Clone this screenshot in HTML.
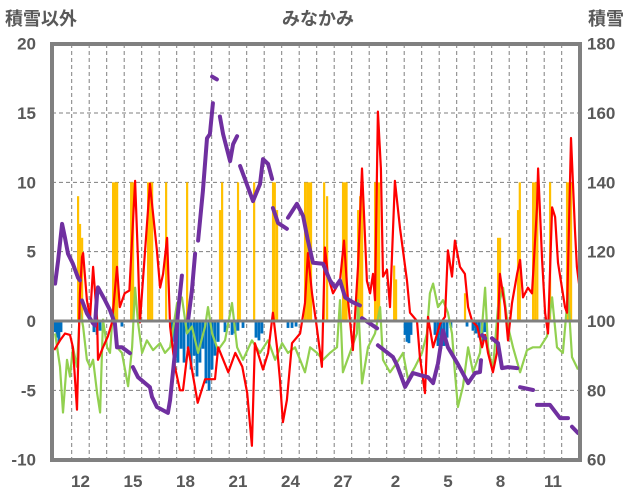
<!DOCTYPE html>
<html><head><meta charset="utf-8">
<style>
html,body{margin:0;padding:0;background:#fff;}
svg{display:block;}
text{font-family:"Liberation Sans","Noto Sans CJK JP",sans-serif;fill:#595959;font-weight:bold;}
</style></head>
<body>
<svg id="chart" width="636" height="501" viewBox="0 0 636 501" xmlns="http://www.w3.org/2000/svg">
  <text x="318" y="25" font-size="18" text-anchor="middle">みなかみ</text>
  <text x="5" y="25" font-size="18">積雪以外</text>
  <text x="588" y="25" font-size="18">積雪</text>
  <g id="grid"></g>
  <g id="bars"></g>
  <g id="lines"></g>
  <g id="axes"></g>
</svg>
<script>
// ---- data ----
const leftTicks = [20, 15, 10, 5, 0, -5, -10];
const rightTicks = [180, 160, 140, 120, 100, 80, 60];
const xLabelDays = [1, 4, 7, 10, 13, 16, 19, 22, 25, 28];
const xLabels = ["12", "15", "18", "21", "24", "27", "2", "5", "8", "11"];

const orangeT = [1.36,1.47,1.59,3.36,3.47,3.59,4.39,4.5,5.36,5.47,5.59,6.39,7.59,9.47,9.59,10.5,10.6,11.42,12.5,12.6,12.73,14.33,14.45,14.56,14.67,15.42,15.59,16.5,16.6,16.7,17.36,17.48,17.59,18.33,18.45,18.56,19.42,19.53,23.47,25.36,25.47,26.5,26.6,27.36,27.48,27.6,28.33,29.3,29.4,29.53];
const orangeV = [9,7,6,10,10,10,10,10,10,10,10,10,10,8,10,10,8,10,10,10,8,10,10,10,10,10,9,10,10,10,8,9,10,10,10,10,4,3,2,6,6,8,10,10,10,10,10,10,10,10];

const blueT = [0.05,0.16,0.27,0.39,2.27,2.45,2.62,3.87,6.73,6.9,7.07,7.25,7.42,7.65,7.82,8.0,8.16,8.33,8.5,8.67,8.85,9.02,9.19,9.37,9.76,10.16,10.33,10.5,10.79,11.53,11.7,11.87,13.36,13.59,13.82,20.05,20.16,20.27,20.39,21.76,21.93,22.1,22.27,22.45,22.67,23.59,23.93,24.1,24.27,24.45,24.62];
const blueV = [-0.8,-1.2,-1.5,-0.8,-0.8,-1,-0.7,-0.4,-1.5,-2.5,-3,-2,-3,-2,-3.5,-2.5,-4,-3,-2,-4.5,-5,-3.5,-2.5,-1.5,-0.8,-1,-0.9,-0.7,-0.5,-1.2,-1.4,-0.9,-0.5,-0.5,-0.4,-1,-1.5,-1.6,-1,-1,-1.8,-2,-1.8,-1.2,-0.5,-0.4,-0.7,-0.9,-1.2,-1.5,-0.8];

const redT = [0,0.33,0.62,0.9,1.07,1.3,1.47,1.59,1.65,1.87,2.05,2.22,2.45,2.5,2.79,3.07,3.3,3.59,3.75,4.03,4.3,4.62,4.79,4.9,5.47,5.87,6.05,6.22,6.45,6.62,6.9,7.19,7.36,7.65,8.2,8.62,9.19,9.37,9.95,10.35,10.75,11.03,11.3,11.47,11.93,12.22,12.5,12.73,12.9,13.07,13.3,13.59,14.05,14.33,14.5,14.73,15.0,15.3,15.47,15.65,15.93,16.33,16.56,16.79,17.07,17.36,17.59,17.87,18.05,18.22,18.33,18.5,18.67,18.79,19.02,19.19,19.47,19.76,20.16,20.33,20.73,20.9,21.19,21.36,21.65,22.05,22.33,22.5,22.73,22.9,23.19,23.47,23.65,23.88,24.17,24.45,24.62,24.79,25.07,25.3,25.47,25.76,25.93,26.16,26.45,26.62,26.79,27.07,27.3,27.59,27.65,27.88,28.05,28.22,28.45,28.62,28.79,29.19,29.3,29.53,29.76,29.87,29.99];
const redV = [-2.1,-1.4,-0.9,-1.0,-1.9,-6.4,2,4.6,4.9,1.5,0.3,3.9,0.1,-2.8,-1.9,-1.1,-0.1,3.9,1,2,2.2,10.1,4.4,-0.1,9.9,5.1,2.4,3.4,6,-0.4,-3.3,-5,-5,-1.9,-5.9,-4.2,-4.2,-1.9,-3.7,-2.3,-3.3,-5.2,-9,-1.6,-3.5,-2.3,0.6,-1.9,-4.2,-7.3,-5.7,-1.6,-0.9,1.3,4.9,2,-0.4,-3.3,5.3,3.2,2,2.9,5.8,1.5,-2.1,3.9,11,2.9,2,3.4,1.5,15.1,11,3.2,3.7,1,10.1,6.7,2.9,0.6,0,-2.6,-5.2,0.3,-1.9,-0.2,0.3,5.1,3.2,5.8,3.9,3.4,1,0,-0.4,-1.9,-1,-2.3,-3.7,-2.3,3.4,1,-1.4,1.3,3.4,4.4,1.7,2.4,2,8.2,11,4.4,0.6,-0.9,8.2,7.5,4.2,1,0.6,13.2,6.5,3.9,2.7];

const greenT = [0.05,0.33,0.5,0.73,0.9,1.07,1.3,1.47,1.65,1.87,2.05,2.22,2.45,2.62,2.79,3.02,3.19,3.36,3.59,3.87,4.22,4.45,4.62,4.79,5.02,5.3,5.65,6.05,6.33,6.62,7.02,7.3,7.59,7.87,8.22,8.62,8.79,9.02,9.36,9.76,10.16,10.45,10.79,11.3,11.76,12.22,12.62,13.02,13.36,13.76,14.05,14.33,14.62,15.02,15.36,15.76,16.16,16.33,16.5,16.9,17.3,17.36,17.59,17.93,18.33,18.62,18.79,19.19,19.59,19.93,20.22,20.62,21.02,21.3,21.47,21.65,21.93,22.22,22.5,22.73,22.9,23.07,23.36,23.65,23.93,24.33,24.62,24.79,25.07,25.36,25.65,25.93,26.22,26.62,27.02,27.36,27.76,28.16,28.45,28.73,29.07,29.36,29.59,29.93];
const greenV = [-0.9,-3.3,-6.6,-2.8,-4,-1.9,-3.3,0.8,-0.4,-2.8,-3.3,-2.8,-5.2,-6.6,0.1,-1.9,-2.3,0.8,-1.9,-2.3,-4.7,-1.9,2.4,-0.1,-2.3,-1.4,-2.1,-1.6,-2.3,-1.9,1.3,1.7,-0.9,-0.4,-2.3,-0.4,1,-0.9,-2.1,-1.4,1.3,-1.9,-2.8,-1.4,-2.3,-1.4,-2.8,-1.6,-2.3,-1.9,-2.8,-3.7,-1.9,-2.3,-2.8,-2.3,-1.9,1.5,-3.7,-2.3,-0.9,1.5,-4.5,-1.9,-0.9,1,-2.8,-3.7,-3,-2.3,-4.2,-3.3,-2.3,-0.9,2,2.7,1,1.5,0.6,-0.9,-3.7,-6.2,-4.7,-1.9,-3.7,-2.3,2.4,-1.9,-3.5,1,2.4,-0.4,-1.9,-3.7,-2.1,-1.9,-1.9,-1.1,1.7,-1.9,-2.3,2,-2.6,-3.5];

// snow depth (right axis); null = gap
const purpleT = [0.05,0.22,0.45,0.62,0.79,1.07,1.36,1.47,null,1.59,1.87,2.22,2.33,2.45,2.5,2.9,3.19,3.47,3.59,3.87,4.33,null,4.5,4.79,5.47,5.59,5.87,6.5,6.62,6.9,7.07,7.3,null,7.65,7.87,8.05,null,8.22,8.5,8.73,8.9,9.07,null,9.02,9.3,null,9.47,9.65,10.05,10.22,10.45,null,10.62,10.9,11.36,11.76,11.93,12.22,12.45,null,12.5,12.79,13.3,null,13.36,13.87,14.22,14.5,14.79,15.36,15.76,16.05,16.33,16.62,17.07,17.47,null,17.59,18.45,null,18.5,19.36,19.59,20.05,20.5,20.9,21.36,21.65,21.93,22.22,22.5,23.02,23.65,24.05,24.33,24.39,null,24.45,24.62,null,25.02,25.36,25.59,25.93,26.45,null,26.62,27.36,null,27.59,28.33,28.9,29.36,null,29.59,29.93];
const purpleV = [110.8,117.4,128.0,124.0,119.4,116.5,112.5,111.7,null,105.9,102.2,99.3,98.7,107.9,109.7,106,103.1,99.3,92.4,92.4,90.7,null,86.7,83.8,80.9,78.1,75.2,73.5,77.2,90.7,102.2,113.1,null,100.2,108.8,119.4,null,123.2,137.5,152.7,153.9,162.8,null,170.5,169.7,null,159,153.9,146.1,151,153.3,null,144.7,141,134.6,139.5,146.7,145.3,141,null,132.6,128.3,126.6,null,129.8,133.8,130.3,123.2,116.8,116.5,111.7,109.7,111.7,106.8,105.4,104.5,null,100.8,97.9,null,93,89.6,87.3,81,85,84.4,83.8,82.1,87.8,97.3,92.4,88,82.1,85.0,85.3,88.7,null,95.9,95,null,95,93.6,86.4,86.7,86.4,null,80.9,80.1,null,75.8,75.8,72,72,null,69.5,67.7];

// ---- scales ----
const X0 = 54.2, DAYW = 17.5;
const xs = t => X0 + DAYW * t;
const yL = v => 321 - (v) * (416 / 30);
const yR = r => yL((r - 100) / 4);
const PL = 52, PR = 580, PT = 44, PB = 460;
const NS = "http://www.w3.org/2000/svg";
function mk(tag, attrs, parent) {
  const e = document.createElementNS(NS, tag);
  for (const k in attrs) e.setAttribute(k, attrs[k]);
  parent.appendChild(e);
  return e;
}
const grid = document.getElementById('grid');
const bars = document.getElementById('bars');
const lines = document.getElementById('lines');
const axes = document.getElementById('axes');

// vertical dashed gridlines per day
for (let d = 1; d < 30; d++) {
  const gx = xs(d);
  const l = mk('line', {x1: gx, x2: gx, y1: PT, y2: PB, stroke: '#7f7f7f', 'stroke-width': 1, 'stroke-dasharray': '4,3'}, grid);
  
  
}
// horizontal gridlines and tick labels
leftTicks.forEach((v, i) => {
  const gy = yL(v);
  if (v !== 20 && v !== -10 && v !== 0) {
    const l = mk('line', {x1: PL, x2: PR, y1: gy, y2: gy, stroke: '#7f7f7f', 'stroke-width': 1, 'stroke-dasharray': '4,3'}, grid);
    
    
  }
  const t = mk('text', {x: 36, y: gy + 6, 'font-size': 17, 'text-anchor': 'end'}, axes);
  t.textContent = v;
  
  
  const t2 = mk('text', {x: 587, y: yR(rightTicks[i]) + 6, 'font-size': 17}, axes);
  t2.textContent = rightTicks[i];
  
  
});
xLabelDays.forEach((d, i) => {
  const t = mk('text', {x: xs(d + 0.5), y: 487, 'font-size': 17, 'text-anchor': 'middle'}, axes);
  t.textContent = xLabels[i];
  
  
});

// bars
orangeT.forEach((t, i) => {
  const y = yL(orangeV[i]);
  const r = mk('rect', {x: xs(t) - 1, y: y, width: 2.2, height: yL(0) - y, fill: '#ffc000'}, bars);
  
  
});
blueT.forEach((t, i) => {
  const y = yL(blueV[i]);
  const r = mk('rect', {x: xs(t) - 1.4, y: yL(0), width: 2.8, height: y - yL(0), fill: '#0070c0'}, bars);
  
  
});

function path(ts, vs, ysf) {
  let d = '', pen = false;
  for (let i = 0; i < ts.length; i++) {
    if (ts[i] === null || vs[i] === null) { pen = false; continue; }
    d += (pen ? 'L' : 'M') + xs(ts[i]).toFixed(1) + ',' + ysf(vs[i]).toFixed(1);
    pen = true;
  }
  return d;
}
const g = mk('path', {d: path(greenT, greenV, yL), fill: 'none', stroke: '#92d050', 'stroke-width': 2.2, 'stroke-linejoin': 'round'}, lines);


const rl = mk('path', {d: path(redT, redV, yL), fill: 'none', stroke: '#ff0000', 'stroke-width': 2.2, 'stroke-linejoin': 'round'}, lines);


const pl = mk('path', {d: path(purpleT, purpleV, yR), fill: 'none', stroke: '#7030a0', 'stroke-width': 4, 'stroke-linejoin': 'round', 'stroke-linecap': 'round'}, lines);



// zero line and frame
const z = mk('line', {x1: PL, x2: PR, y1: yL(0), y2: yL(0), stroke: '#808080', 'stroke-width': 3}, axes);


const f = mk('rect', {x: PL, y: PT, width: PR - PL, height: PB - PT, fill: 'none', stroke: '#808080', 'stroke-width': 4}, axes);


</script>
</body></html>
